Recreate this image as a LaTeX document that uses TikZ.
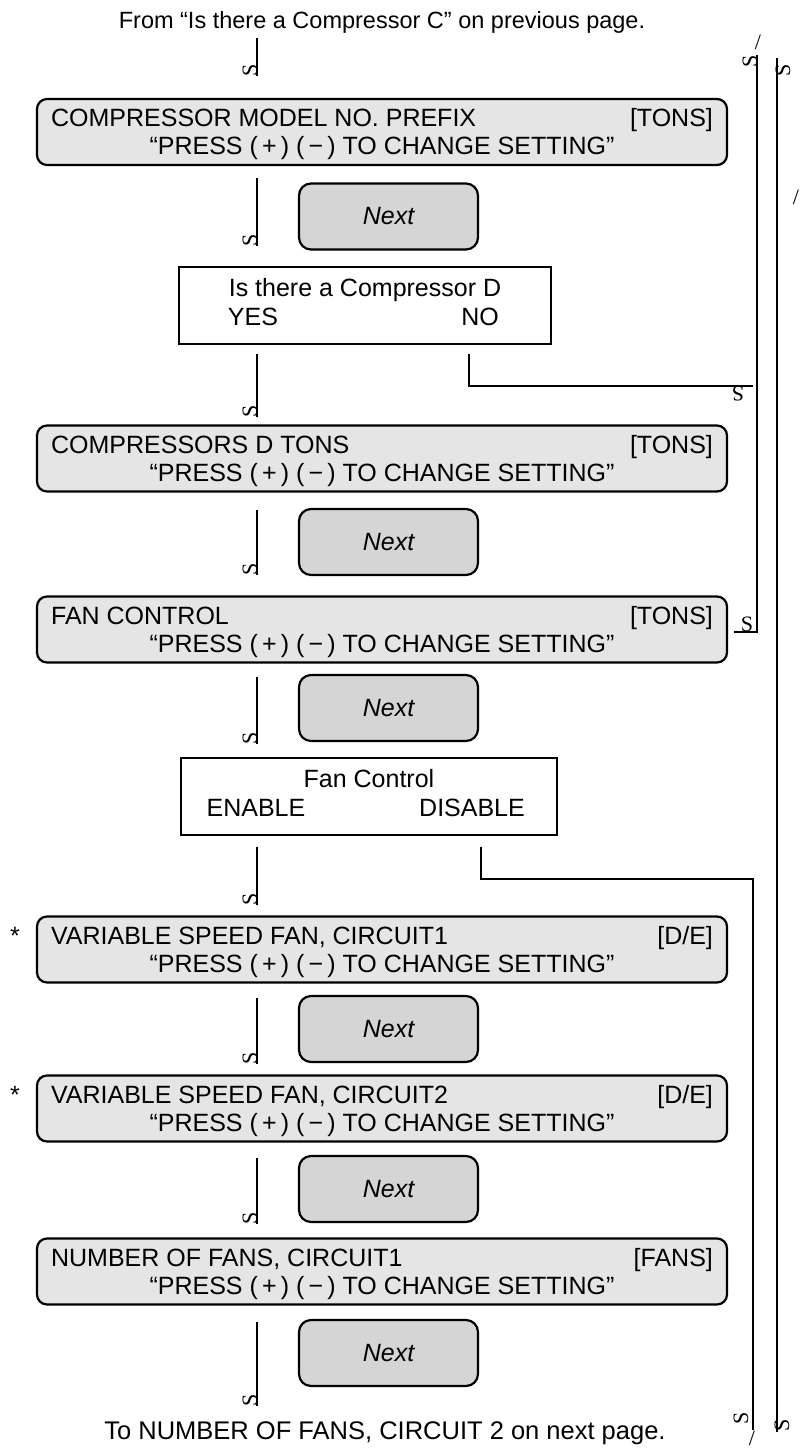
\documentclass[tikz,border=0pt]{standalone}
\usepackage{fontspec}
\setmainfont{Liberation Sans}
\newfontfamily\markfont{Liberation Serif}
\usetikzlibrary{calc}

\tikzset{
    dispbox/.style={draw, line width=2.2pt, rounded corners=10pt, fill=gray!20,
        minimum width=690pt, minimum height=66pt, inner sep=0pt},
    nextbox/.style={draw, line width=2.2pt, rounded corners=12pt, fill=gray!33,
        minimum width=179pt, minimum height=66pt, inner sep=0pt,
        font=\fontsize{25}{28}\selectfont\itshape},
    askbox/.style={draw, line width=1.5pt, fill=white, minimum height=77pt, inner sep=0pt},
    txt/.style={anchor=base, inner sep=0pt},
    flow/.style={line width=2pt},
    glyph/.style={font=\markfont\fontsize{22}{22}\selectfont, inner sep=0pt},
    downS/.style={glyph, rotate=90},
}

\def\presstxt{“PRESS (\,+\,) (\,−\,) TO CHANGE SETTING”}

\begin{document}
\begin{tikzpicture}[x=1pt, y=-1pt, font=\fontsize{25}{28}\selectfont]
    \useasboundingbox (0,0) rectangle (805,1449);

    % --- Entry and exit texts ---
    \node[txt, font=\fontsize{23.5}{28}\selectfont] (title) at (382,28)
        {From “Is there a Compressor C” on previous page.};
    \node[txt, font=\fontsize{25.5}{28}\selectfont] (bottom) at (385,1439)
        {To NUMBER OF FANS, CIRCUIT 2 on next page.};

    % --- Display screens, with setting line ---
    \foreach \n/\yc/\l/\r in {box1/132/COMPRESSOR MODEL NO. PREFIX/[TONS],
                              box2/458.5/COMPRESSORS D TONS/[TONS],
                              box3/629.5/FAN CONTROL/[TONS],
                              box4/949.5/{VARIABLE SPEED FAN, CIRCUIT1}/{[D/E]},
                              box5/1108.5/{VARIABLE SPEED FAN, CIRCUIT2}/{[D/E]},
                              box6/1271.5/{NUMBER OF FANS, CIRCUIT1}/[FANS]} {
        \node[dispbox] (\n) at (382,\yc) {};
        \node[txt, anchor=base west] at ($(\n.west)+(15,-5.5)$) {\l};
        \node[txt, anchor=base east] at ($(\n.east)+(-15,-5.5)$) {\r};
        \node[txt] at ($(\n.center)+(0,22.5)$) {\presstxt};
    }
    \node[txt] at ($(box4.west)+(-21,-5.5)$) {*};
    \node[txt] at ($(box5.west)+(-21,-5.5)$) {*};

    % --- Next keys ---
    \foreach \n/\yc in {next1/216.5, next2/542, next3/708, next4/1029, next5/1189, next6/1353}
        \node[nextbox] (\n) at (388.5,\yc) {Next};

    % --- Questions ---
    \node[askbox, minimum width=372pt] (decd) at (365,305.5) {};
    \node[txt] at ($(decd.center)+(0,-9)$) {Is there a Compressor D};
    \node[txt] at ($(decd.center)+(-112,20)$) {YES};
    \node[txt] at ($(decd.center)+(115,20)$) {NO};

    \node[askbox, minimum width=376pt] (decfan) at (369,796.5) {};
    \node[txt] at ($(decfan.center)+(0,-9)$) {Fan Control};
    \node[txt] at ($(decfan.center)+(-113,20)$) {ENABLE};
    \node[txt] at ($(decfan.center)+(103,20)$) {DISABLE};

    % --- Main flow down the left side ---
    \coordinate (ax) at (257,0);
    \foreach \a/\b/\s/\e in {title/box1/5/22, box1/decd/12/20, decd/box2/9/7,
                             box2/box3/17/20, box3/decfan/13/13, decfan/box4/11/10,
                             box4/box5/14/10, box5/box6/15/13, box6/bottom/16/15}
        \draw[flow] ($(ax |- \a.south)+(0,\s)$) -- ($(ax |- \b.north)-(0,\e)$)
            ++(-7,-6) node[downS] {S};

    % --- Bypass lines on the right ---
    \coordinate (busA) at (757,55);
    \coordinate (busB) at (777,58);
    \coordinate (busBend) at (777,1432);
    \coordinate (busC) at (753,1430);

    % NO: skip to FAN CONTROL
    \draw[flow] ($(decd.south east)+(-83,9)$) |- ($(busA |- decd.south)+(-4,41)$)
        ++(-15,8) node[glyph, rotate=180] {S};
    \draw[flow] (busA) |- ($(box3.east)+(6,2)$);
    \node[glyph] at ($(box3.east)+(19,-5)$) {S};
    \node[downS] at ($(busA)+(-7,6)$) {S};
    \node[glyph] at ($(busA)+(1,-13)$) {/};

    % DISABLE: skip to next page
    \draw[flow] ($(decfan.south east)+(-77,11)$) |- ($(busA |- decfan.south)+(-4,43)$) -- (busC);
    \node[downS] at ($(busC)+(-12,-12)$) {S};
    \node[glyph] at ($(busC)+(-1,8)$) {/};

    % from previous page to next page
    \draw[flow] (busB) -- (busBend);
    \node[downS] at ($(busB)+(6,12)$) {S};
    \node[glyph] at ($(busB)+(19,139)$) {/};
    \node[downS] at ($(busBend)+(5,-7)$) {S};
\end{tikzpicture}
\end{document}
